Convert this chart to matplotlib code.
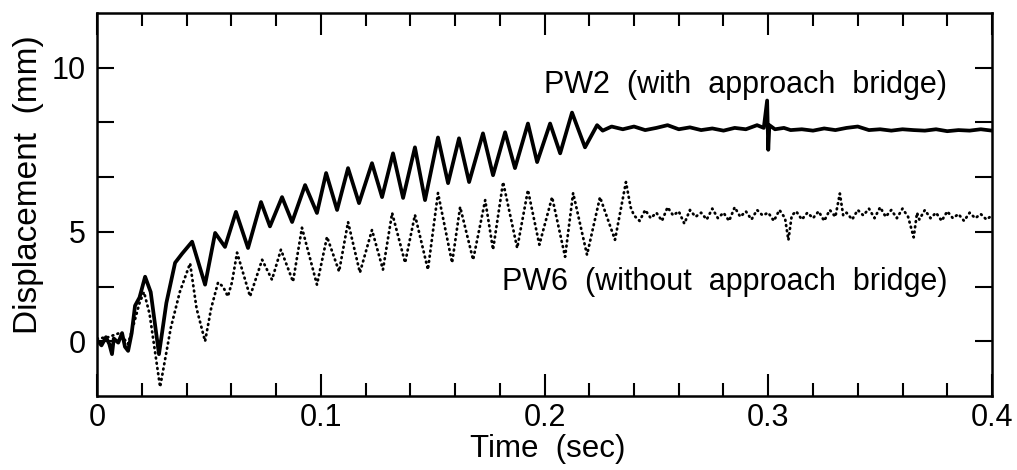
import matplotlib
matplotlib.use("Agg")
import matplotlib.pyplot as plt
from matplotlib.ticker import MultipleLocator

plt.rcParams['font.family'] = ['Liberation Sans', 'DejaVu Sans']

# ---- data ----
pw2_t = [0.000, 0.002, 0.004, 0.0055, 0.0067, 0.0075, 0.0095, 0.0112, 0.0125, 0.0139,
         0.0155, 0.017, 0.019, 0.0215, 0.024, 0.0277, 0.031, 0.0349, 0.038, 0.0425,
         0.0483, 0.0528, 0.0572, 0.0621, 0.0675, 0.0733, 0.0773, 0.0827, 0.0872, 0.093,
         0.0983, 0.1024, 0.1073, 0.1122, 0.1171, 0.1229, 0.1274, 0.1323, 0.1368, 0.1421,
         0.1466, 0.1524, 0.1569, 0.1618, 0.1663, 0.1725, 0.177, 0.1824, 0.1868, 0.1926,
         0.1967, 0.2025, 0.207, 0.2123, 0.2181, 0.2235, 0.226, 0.23, 0.235, 0.24,
         0.245, 0.25, 0.255, 0.26, 0.265, 0.27, 0.275, 0.28, 0.285, 0.29,
         0.295, 0.298, 0.2995, 0.3, 0.3005, 0.303, 0.307, 0.31, 0.315, 0.32,
         0.325, 0.33, 0.335, 0.34, 0.345, 0.35, 0.355, 0.36, 0.365, 0.37,
         0.375, 0.38, 0.385, 0.39, 0.395, 0.4]
pw2_y = [0.05, -0.15, 0.15, -0.1, -0.47, 0.1, -0.05, 0.3, -0.2, -0.35,
         0.3, 1.3, 1.6, 2.36, 1.8, -0.47, 1.4, 2.87, 3.2, 3.64,
         2.07, 3.96, 3.45, 4.73, 3.41, 5.09, 4.2, 5.27, 4.36, 5.71,
         4.69, 6.15, 4.8, 6.33, 5.05, 6.51, 5.27, 6.87, 5.24, 7.09,
         5.16, 7.45, 5.78, 7.42, 5.82, 7.6, 6.07, 7.64, 6.33, 7.96,
         6.55, 7.96, 6.87, 8.36, 7.09, 7.9, 7.7, 7.85, 7.75, 7.85,
         7.72, 7.8, 7.9, 7.75, 7.82, 7.72, 7.78, 7.7, 7.8, 7.75,
         7.9, 7.8, 8.8, 7.0, 7.9, 7.75, 7.8, 7.72, 7.75, 7.7,
         7.78, 7.72, 7.8, 7.85, 7.72, 7.75, 7.7, 7.75, 7.72, 7.7,
         7.75, 7.68, 7.72, 7.7, 7.75, 7.7]

pw6_t = [0.000, 0.005, 0.010, 0.0139, 0.016, 0.019, 0.021, 0.0235, 0.0282, 0.033,
         0.037, 0.0416, 0.0445, 0.0483, 0.051, 0.0541, 0.0563, 0.0585, 0.0603, 0.0626,
         0.0684, 0.0738, 0.0782, 0.0822, 0.0876, 0.0916, 0.0983, 0.1028, 0.1082, 0.1122,
         0.1175, 0.1229, 0.1278, 0.1319, 0.1377, 0.1421, 0.1479, 0.1524, 0.1587, 0.1623,
         0.1681, 0.1735, 0.177, 0.1815, 0.1878, 0.1926, 0.1977, 0.2034, 0.2092, 0.2128,
         0.219, 0.2248, 0.2315, 0.2364, 0.2385,
         0.240, 0.2425, 0.245, 0.2475, 0.25, 0.2525, 0.255, 0.2575, 0.26, 0.2625,
         0.265, 0.2675, 0.27, 0.2725, 0.275, 0.2775, 0.28, 0.2825, 0.285, 0.2875,
         0.29, 0.2925, 0.295, 0.2975, 0.3, 0.3025, 0.305, 0.3075, 0.309, 0.3105,
         0.3125, 0.315, 0.3175, 0.32, 0.3225, 0.325, 0.3275, 0.33, 0.332, 0.3335,
         0.335, 0.3375, 0.34, 0.3425, 0.345, 0.3475, 0.35, 0.3525, 0.355, 0.3575,
         0.36, 0.3625, 0.365, 0.3665, 0.3675, 0.37, 0.3725, 0.375, 0.3775, 0.38,
         0.3825, 0.385, 0.3875, 0.39, 0.3925, 0.395, 0.3975, 0.4]
pw6_y = [0.1, 0.15, 0.3, -0.1, 0.5, 1.4, 1.8, 1.0, -1.67, 0.5,
         1.8, 2.85, 1.2, 0.0, 1.2, 2.15, 2.0, 1.64, 2.15, 3.24,
         1.64, 2.98, 2.25, 3.35, 2.18, 4.15, 2.07, 3.82, 2.55, 4.36,
         2.51, 4.07, 2.62, 4.69, 2.87, 4.62, 2.62, 5.42, 2.87, 4.91,
         2.98, 5.16, 3.35, 5.82, 3.41, 5.53, 3.53, 5.27, 3.09, 5.42,
         3.16, 5.27, 3.71, 5.82, 4.9,
         4.6, 4.4, 4.8, 4.5, 4.7, 4.4, 4.9, 4.6, 4.75, 4.3,
         4.8, 4.55, 4.7, 4.45, 4.85, 4.5, 4.7, 4.4, 4.9, 4.55,
         4.75, 4.45, 4.8, 4.6, 4.7, 4.4, 4.8, 4.5, 3.7, 4.6,
         4.75, 4.45, 4.7, 4.5, 4.75, 4.4, 4.8, 4.55, 5.4, 4.6,
         4.7, 4.45, 4.8, 4.6, 4.85, 4.5, 4.9, 4.55, 4.8, 4.5,
         4.85, 4.55, 3.8, 4.7, 4.45, 4.8, 4.5, 4.7, 4.4, 4.75,
         4.5, 4.65, 4.4, 4.7, 4.5, 4.65, 4.45, 4.6]

x_ticks = [0, 0.1, 0.2, 0.3, 0.4]
x_tick_labels = ['0', '0.1', '0.2', '0.3', '0.4']
y_ticks = [0, 2, 4, 6, 8, 10]
y_tick_labels = ['0', '', '5', '', '', '10']

label_pw2 = 'PW2  (with  approach  bridge)'
label_pw6 = 'PW6  (without  approach  bridge)'

# ---- figure ----
fig = plt.figure(figsize=(10.17, 4.70), dpi=100)
ax = fig.add_axes([97/1017, 1 - 396/470, (992-97)/1017, (396-13)/470])

ax.plot(pw2_t, pw2_y, color='black', lw=2.7, solid_joinstyle='round',
        solid_capstyle='round')
ax.plot(pw6_t, pw6_y, color='black', lw=2.0, linestyle=(0, (0.3, 1.6)),
        dash_capstyle='round')

ax.set_xlim(0, 0.4)
ax.set_ylim(-2, 12)

ax.set_xticks(x_ticks)
ax.set_xticklabels(x_tick_labels)
ax.xaxis.set_minor_locator(MultipleLocator(0.02))
ax.set_yticks(y_ticks)
ax.set_yticklabels(y_tick_labels)

ax.tick_params(axis='x', which='major', direction='in', top=True, bottom=True,
               length=16, width=1.5, labelsize=22, pad=5)
ax.tick_params(axis='x', which='minor', direction='in', top=True, bottom=True,
               length=9.5, width=1.5)
ax.tick_params(axis='y', which='major', direction='in', left=True, right=True,
               length=12, width=1.5, labelsize=22, pad=8)

for s in ax.spines.values():
    s.set_linewidth(1.8)

ax.set_xlabel('Time  (sec)', fontsize=22.5)
ax.xaxis.set_label_coords(0.504, -0.10)
ax.set_ylabel('Displacement  (mm)', fontsize=24)
ax.yaxis.label.set_va('center')
ax.yaxis.set_label_coords(-0.077, 0.553)

ax.text(0.38, 9.35, label_pw2, fontsize=22, ha='right', va='center')
ax.text(0.38, 2.18, label_pw6, fontsize=22, ha='right', va='center')

fig.savefig('out.png', dpi=100)
